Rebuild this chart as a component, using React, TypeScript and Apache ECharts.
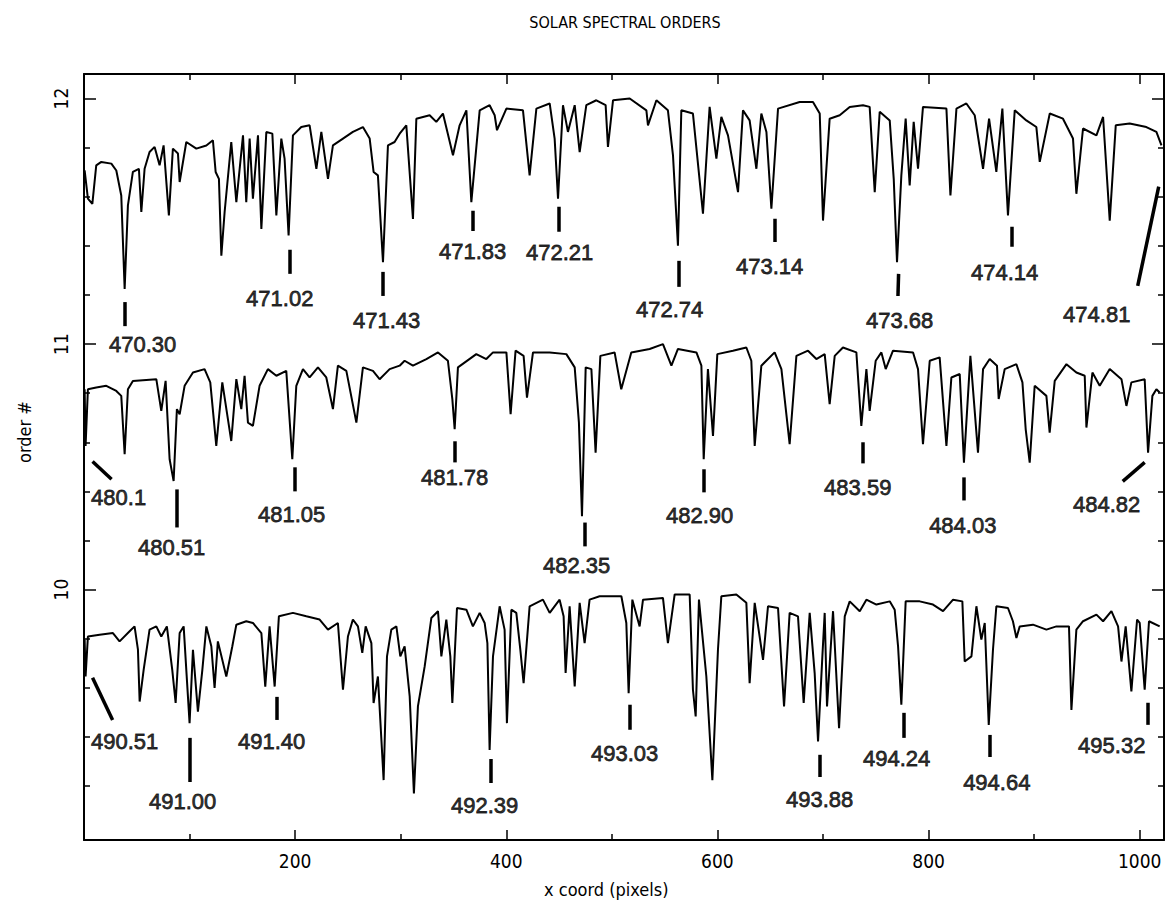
import { useEffect, useRef } from "react";
import * as echarts from "echarts";

// Spectrum traces: [x coord (pixels), order # + normalised flux - 1]
const order12: number[][] = [[0.6,11.707],[3.7,11.592],[7.9,11.571],[11.6,11.728],[16.4,11.742],[25.9,11.735],[30.6,11.707],[35.3,11.605],[38.5,11.224],[41.6,11.565],[46.3,11.701],[52.0,11.714],[54.3,11.538],[57.4,11.714],[62.1,11.782],[66.9,11.803],[71.6,11.728],[75.4,11.809],[80.4,11.524],[84.2,11.796],[89.0,11.776],[90.6,11.66],[96.9,11.823],[106.4,11.796],[115.9,11.809],[122.1,11.83],[124.7,11.701],[127.8,11.673],[130.1,11.36],[133.2,11.538],[139.5,11.823],[144.3,11.578],[150.6,11.85],[153.7,11.578],[156.9,11.837],[160.0,11.592],[164.8,11.85],[168.0,11.469],[172.7,11.864],[178.4,11.857],[182.2,11.524],[186.9,11.837],[190.0,11.755],[193.8,11.442],[197.9,11.85],[205.8,11.884],[213.7,11.891],[220.1,11.714],[224.8,11.864],[231.1,11.673],[235.8,11.809],[245.3,11.837],[254.7,11.864],[264.2,11.884],[270.6,11.837],[274.3,11.701],[278.4,11.687],[283.2,11.333],[287.9,11.809],[294.2,11.823],[299.0,11.857],[305.3,11.891],[311.6,11.51],[314.8,11.918],[327.4,11.932],[333.7,11.905],[340.0,11.939],[349.5,11.769],[355.8,11.891],[362.2,11.952],[366.9,11.578],[374.8,11.952],[384.2,11.973],[389.0,11.932],[391.2,11.871],[400.1,11.959],[415.8,11.952],[422.1,11.687],[428.5,11.959],[441.1,11.98],[445.8,11.837],[449.0,11.592],[453.7,11.973],[458.4,11.864],[464.8,11.973],[469.5,11.782],[475.8,11.973],[485.3,11.993],[494.1,11.973],[496.3,11.803],[501.1,11.993],[516.9,12.0],[532.7,11.952],[534.2,11.891],[542.2,11.993],[553.1,11.952],[557.9,11.769],[562.6,11.401],[565.8,11.952],[576.8,11.939],[586.3,11.531],[592.6,11.966],[599.0,11.755],[603.7,11.925],[610.0,11.85],[619.5,11.619],[624.2,11.952],[630.5,11.911],[636.9,11.714],[641.6,11.939],[646.4,11.864],[651.1,11.551],[657.4,11.959],[677.9,11.986],[690.5,11.986],[696.9,11.939],[700.0,11.503],[706.3,11.918],[715.8,11.932],[725.3,11.966],[737.9,11.973],[744.2,11.966],[749.0,11.619],[753.7,11.946],[763.2,11.911],[767.0,11.673],[770.1,11.333],[774.2,11.687],[778.3,11.918],[782.1,11.646],[785.9,11.905],[790.0,11.714],[794.7,11.966],[816.9,11.959],[820.7,11.605],[826.4,11.959],[835.8,11.98],[843.7,11.932],[851.6,11.714],[857.3,11.918],[864.2,11.701],[869.9,11.959],[875.2,11.524],[881.6,11.952],[892.6,11.911],[902.1,11.884],[905.3,11.742],[914.8,11.939],[927.3,11.918],[936.8,11.837],[940.0,11.612],[946.3,11.878],[959.0,11.85],[965.3,11.925],[971.6,11.503],[977.3,11.891],[990.5,11.898],[1006.3,11.884],[1015.8,11.864],[1020.6,11.809]];

const order11: number[][] = [[0.6,10.816],[1.5,10.585],[3.7,10.816],[11.6,10.823],[21.1,10.83],[30.6,10.809],[35.3,10.789],[38.5,10.551],[41.6,10.816],[46.3,10.85],[68.5,10.857],[73.2,10.728],[77.3,10.85],[81.1,10.531],[84.9,10.442],[88.0,10.735],[90.6,10.714],[95.3,10.83],[103.2,10.884],[114.2,10.898],[119.6,10.844],[125.3,10.585],[131.0,10.844],[139.5,10.605],[144.3,10.857],[149.0,10.735],[152.1,10.871],[155.3,10.68],[160.0,10.667],[166.3,10.83],[174.2,10.898],[182.2,10.871],[191.6,10.891],[197.3,10.531],[201.1,10.83],[207.4,10.898],[213.7,10.864],[221.6,10.905],[229.5,10.864],[235.8,10.735],[240.5,10.912],[248.5,10.891],[258.0,10.68],[264.2,10.905],[273.7,10.891],[280.0,10.857],[289.5,10.898],[299.0,10.912],[303.7,10.932],[311.6,10.912],[324.3,10.939],[335.3,10.966],[344.7,10.932],[348.9,10.776],[351.1,10.653],[354.2,10.905],[371.6,10.959],[381.1,10.939],[387.4,10.966],[400.1,10.966],[404.1,10.714],[408.8,10.973],[416.4,10.952],[419.6,10.782],[425.3,10.966],[441.1,10.966],[456.9,10.959],[464.8,10.905],[468.8,10.68],[471.7,10.299],[475.2,10.905],[480.6,10.898],[484.6,10.558],[489.1,10.952],[502.6,10.966],[508.9,10.816],[518.4,10.966],[535.8,10.98],[548.4,11.0],[556.4,10.912],[562.6,10.98],[580.1,10.966],[584.8,10.912],[587.0,10.531],[591.0,10.898],[595.8,10.626],[599.9,10.959],[614.7,10.973],[627.4,10.986],[632.1,10.932],[635.3,10.585],[641.6,10.912],[654.2,10.966],[660.6,10.898],[668.4,10.592],[674.8,10.952],[685.8,10.973],[693.7,10.939],[701.6,10.959],[706.3,10.755],[711.1,10.952],[718.9,10.986],[731.6,10.966],[736.3,10.667],[741.1,10.898],[744.2,10.728],[749.9,10.932],[755.3,10.966],[759.4,10.898],[766.3,10.973],[785.3,10.966],[790.0,10.898],[794.7,10.592],[801.1,10.932],[810.5,10.946],[816.9,10.585],[821.6,10.864],[829.5,10.878],[833.5,10.517],[839.6,10.952],[846.8,10.558],[851.6,10.898],[857.9,10.939],[864.8,10.912],[866.4,10.776],[872.1,10.898],[883.2,10.918],[888.9,10.844],[892.0,10.653],[895.8,10.517],[900.5,10.83],[911.6,10.789],[914.7,10.639],[919.5,10.85],[930.6,10.918],[940.0,10.884],[947.9,10.871],[949.5,10.66],[955.2,10.884],[962.1,10.83],[971.6,10.898],[982.7,10.857],[987.4,10.748],[992.1,10.844],[1004.7,10.857],[1007.9,10.558],[1012.0,10.789],[1015.8,10.816],[1018.9,10.803]];

const order10: number[][] = [[0.6,9.796],[1.5,9.646],[3.7,9.809],[14.8,9.816],[27.4,9.823],[33.7,9.789],[43.2,9.83],[47.9,9.85],[51.1,9.755],[52.7,9.544],[56.5,9.673],[62.1,9.837],[68.5,9.85],[73.2,9.809],[78.5,9.85],[83.6,9.673],[86.8,9.538],[90.6,9.823],[94.4,9.85],[96.9,9.673],[100.0,9.456],[103.2,9.755],[107.9,9.503],[112.1,9.673],[115.9,9.85],[120.6,9.769],[123.7,9.599],[126.8,9.789],[134.8,9.646],[140.5,9.769],[144.3,9.857],[153.7,9.871],[160.0,9.864],[168.0,9.823],[171.7,9.605],[175.8,9.85],[180.6,9.605],[184.6,9.891],[197.9,9.905],[210.6,9.891],[223.2,9.878],[231.1,9.837],[240.5,9.864],[245.3,9.592],[250.0,9.809],[254.7,9.878],[259.5,9.85],[263.6,9.742],[266.8,9.85],[272.2,9.782],[274.3,9.538],[278.4,9.646],[283.8,9.224],[287.0,9.728],[291.1,9.837],[295.9,9.85],[299.6,9.728],[303.7,9.769],[308.5,9.565],[312.5,9.17],[316.3,9.524],[322.7,9.687],[329.0,9.884],[335.3,9.912],[338.5,9.728],[343.2,9.878],[347.0,9.728],[348.9,9.538],[353.3,9.925],[362.2,9.918],[368.4,9.85],[374.8,9.905],[379.5,9.864],[382.1,9.782],[384.2,9.347],[387.4,9.728],[393.7,9.932],[398.4,9.837],[400.6,9.456],[404.8,9.918],[409.5,9.905],[413.3,9.755],[416.4,9.619],[422.1,9.932],[434.7,9.959],[441.1,9.905],[450.5,9.959],[454.3,9.891],[456.2,9.66],[460.0,9.932],[464.8,9.605],[469.5,9.946],[474.2,9.782],[478.9,9.959],[488.4,9.973],[509.0,9.973],[513.7,9.864],[515.9,9.578],[519.4,9.959],[526.3,9.85],[529.5,9.959],[548.4,9.966],[553.1,9.782],[559.5,9.98],[573.7,9.98],[576.8,9.592],[579.4,9.483],[582.5,9.959],[589.5,9.646],[595.2,9.224],[600.5,9.755],[603.7,9.973],[617.9,9.98],[627.4,9.946],[630.5,9.619],[635.3,9.946],[643.2,9.714],[647.9,9.932],[657.4,9.925],[663.1,9.524],[668.4,9.905],[676.3,9.891],[681.7,9.538],[687.4,9.905],[692.1,9.66],[695.3,9.381],[699.4,9.728],[701.6,9.905],[703.8,9.524],[709.5,9.912],[715.2,9.435],[720.6,9.891],[725.3,9.952],[734.8,9.912],[741.1,9.959],[750.6,9.939],[763.2,9.952],[767.9,9.918],[771.1,9.769],[774.2,9.531],[778.3,9.952],[791.6,9.952],[804.2,9.939],[813.7,9.912],[823.2,9.959],[832.0,9.952],[834.2,9.707],[840.6,9.728],[845.3,9.932],[850.0,9.796],[853.2,9.864],[857.0,9.449],[861.0,9.755],[864.2,9.932],[875.2,9.925],[879.9,9.871],[883.2,9.803],[886.3,9.85],[898.9,9.857],[911.6,9.837],[921.1,9.85],[933.0,9.85],[935.3,9.51],[940.0,9.837],[946.3,9.871],[959.0,9.898],[965.3,9.871],[973.2,9.912],[979.5,9.85],[982.7,9.707],[986.7,9.85],[992.1,9.585],[997.5,9.878],[1000.0,9.864],[1004.7,9.592],[1008.8,9.871],[1018.9,9.85]];

// Identified lines (wavelengths, nm)
const lineNames: string[] = [
  "470.30","471.02","471.43","471.83","472.21","472.74","473.14","473.68","474.14","474.81",
  "480.1","480.51","481.05","481.78","482.35","482.90","483.59","484.03","484.82",
  "490.51","491.00","491.40","492.39","493.03","493.88","494.24","494.64","495.32",
];
// marker segment ends in data units: [x1, y1, x2, y2]
const lineMarks: number[][] = [
  [38.5,11.171,38.5,11.073],[194.8,11.384,194.8,11.286],[282.9,11.294,282.9,11.196],[368.1,11.543,368.1,11.461],[449.6,11.559,449.6,11.457],[563.3,11.339,563.3,11.233],[654.2,11.51,654.2,11.416],[771.6,11.286,771.0,11.196],[878.7,11.478,878.7,11.396],[1018.0,11.641,998.1,11.237],
  [8.1,10.522,26.1,10.449],[87.7,10.408,87.7,10.253],[199.5,10.498,199.5,10.4],[351.1,10.604,351.1,10.518],[474.2,10.273,474.2,10.176],[586.9,10.49,586.9,10.396],[737.6,10.6,737.6,10.514],[833.3,10.457,833.3,10.363],[1004.7,10.518,983.9,10.441],
  [8.1,9.641,27.1,9.469],[100.0,9.396,100.0,9.216],[182.4,9.563,182.4,9.469],[385.2,9.31,385.2,9.212],[516.8,9.531,516.8,9.429],[696.8,9.327,696.8,9.237],[776.4,9.498,776.4,9.396],[857.9,9.408,857.7,9.318],[1007.5,9.539,1007.5,9.449],
];
// label centres in data units: [x, y]
const lineLabelAt: number[][] = [
  [55.5,11.0],[185.4,11.184],[286.6,11.094],[368.1,11.376],[450.5,11.371],[554.7,11.139],[649.5,11.314],[772.6,11.094],[872.1,11.29],[959.3,11.122],
  [32.8,10.376],[83.0,10.171],[196.7,10.306],[351.1,10.457],[466.6,10.098],[583.2,10.302],[732.9,10.416],[832.4,10.261],[968.7,10.347],
  [38.5,9.38],[93.4,9.135],[177.7,9.38],[379.5,9.122],[512.1,9.331],[696.8,9.143],[769.8,9.31],[864.6,9.216],[973.5,9.363],
];

const xMajorTicks = [200, 400, 600, 800, 1000];
const xMinorTicks = [100, 300, 500, 700, 900];
const yMajorTicks = [10, 11, 12];
const yMinorTicks = [9.2, 9.4, 9.6, 9.8, 10.2, 10.4, 10.6, 10.8, 11.2, 11.4, 11.6, 11.8];

const X_MIN = 0, X_MAX = 1023, Y_MIN = 8.98, Y_MAX = 12.1;
const STROKE_FONT = "'DejaVu Sans Condensed', 'DejaVu Sans', sans-serif";
const LABEL_FONT = "'Liberation Sans', Arial, sans-serif";

function xAxis(position: string, ticks: number[], len: number, showLine: boolean, showLabel: boolean) {
  return {
    type: "value", position, min: X_MIN, max: X_MAX,
    axisLine: { show: showLine, onZero: false, lineStyle: { color: "#000", width: 2 } },
    axisTick: { show: true, inside: true, length: len, customValues: ticks, lineStyle: { color: "#000", width: 1.5 } },
    axisLabel: { show: showLabel, customValues: ticks, margin: 11, color: "#000", fontSize: 19, fontFamily: STROKE_FONT, formatter: (v: number) => String(v) },
    splitLine: { show: false },
  };
}
function yAxis(position: string, ticks: number[], len: number, showLine: boolean, showLabel: boolean) {
  return {
    type: "value", position, min: Y_MIN, max: Y_MAX,
    axisLine: { show: showLine, onZero: false, lineStyle: { color: "#000", width: 2 } },
    axisTick: { show: true, inside: true, length: len, customValues: ticks, lineStyle: { color: "#000", width: 1.5 } },
    axisLabel: { show: showLabel, customValues: ticks, rotate: 90, margin: 14, color: "#000", fontSize: 19, fontFamily: STROKE_FONT, formatter: (v: number) => String(v) },
    splitLine: { show: false },
  };
}

export default function App() {
  const ref = useRef<HTMLDivElement>(null);
  useEffect(() => {
    if (!ref.current) return;
    const chart = echarts.init(ref.current, undefined, { renderer: "svg" });
    const spectrum = (data: number[][]) => ({
      type: "line", xAxisIndex: 0, yAxisIndex: 0, data, symbol: "none", showSymbol: false,
      lineStyle: { color: "#000", width: 2 }, silent: true,
    });
    chart.setOption({
      animation: false,
      backgroundColor: "#fff",
      title: {
        text: "SOLAR SPECTRAL ORDERS", left: 620, top: 9, textAlign: "center",
        textStyle: { fontFamily: STROKE_FONT, fontSize: 16, fontWeight: "normal", color: "#000" },
      },
      grid: { left: 84, right: 10, top: 74, bottom: 82 },
      xAxis: [
        xAxis("bottom", xMajorTicks, 10, true, true),
        xAxis("bottom", xMinorTicks, 6, false, false),
        xAxis("top", xMajorTicks, 10, true, false),
        xAxis("top", xMinorTicks, 6, false, false),
      ],
      yAxis: [
        yAxis("left", yMajorTicks, 12, true, true),
        yAxis("left", yMinorTicks, 6, false, false),
        yAxis("right", yMajorTicks, 12, true, false),
        yAxis("right", yMinorTicks, 6, false, false),
      ],
      graphic: [
        { type: "text", left: 544, top: 880, style: { text: "x coord (pixels)", fontFamily: STROKE_FONT, fontSize: 18, fill: "#000" } },
        { type: "text", x: 24, y: 432, rotation: Math.PI / 2, style: { text: "order #", fontFamily: STROKE_FONT, fontSize: 18, fill: "#000", align: "center", verticalAlign: "middle" } },
      ],
      series: [
        spectrum(order12),
        spectrum(order11),
        spectrum(order10),
        {
          type: "lines", coordinateSystem: "cartesian2d", xAxisIndex: 0, yAxisIndex: 0, silent: true,
          data: lineMarks.map((m) => ({ coords: [[m[0], m[1]], [m[2], m[3]]] })),
          lineStyle: { color: "#000", width: 3.5, opacity: 1, curveness: 0 },
        },
        {
          type: "scatter", xAxisIndex: 0, yAxisIndex: 0, silent: true, symbolSize: 1,
          itemStyle: { color: "rgba(0,0,0,0)" },
          data: lineNames.map((n, i) => ({ name: n, value: lineLabelAt[i] })),
          label: { show: true, position: "inside", formatter: "{b}", color: "#000", fontSize: 22, fontFamily: LABEL_FONT, textBorderColor: "#000", textBorderWidth: 0.8 },
        },
      ],
    });
    return () => chart.dispose();
  }, []);
  return <div ref={ref} style={{ position: "absolute", left: 0, top: 0, width: 1174, height: 922, background: "#fff" }} />;
}
